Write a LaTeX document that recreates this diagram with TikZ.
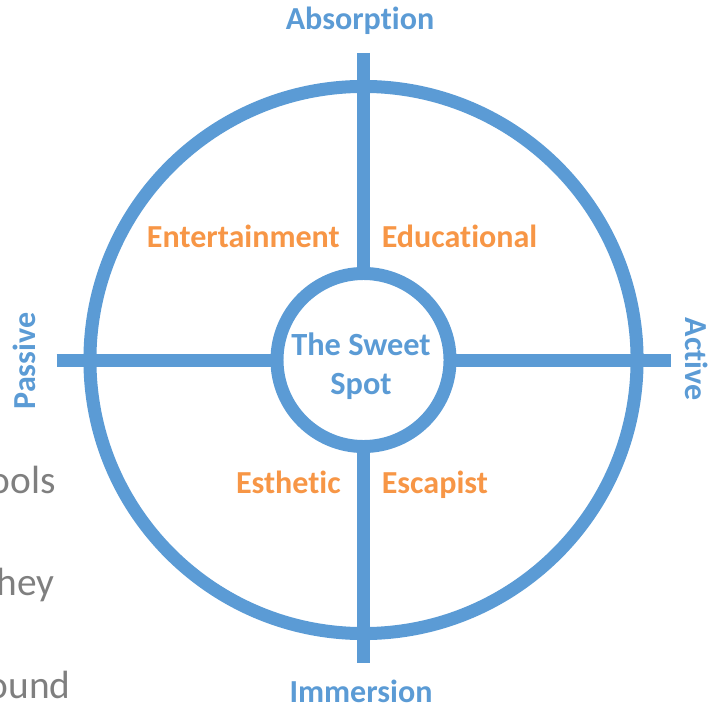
\documentclass[tikz,border=0pt]{standalone}
\usepackage{fontspec}
\setmainfont{Carlito}[Ligatures=NoCommon]
\usetikzlibrary{positioning}
\definecolor{ringblue}{HTML}{5B9BD5}
\definecolor{quadorange}{HTML}{F79646}
\definecolor{slidegray}{HTML}{7F7F7F}
\tikzset{
  ax/.style={font=\fontsize{22.8}{27}\selectfont\bfseries, text=ringblue, inner sep=0pt},
  qd/.style={font=\fontsize{22.8}{27}\selectfont\bfseries, text=quadorange, inner sep=0pt},
  gr/.style={font=\fontsize{28}{34}\selectfont, text=slidegray, inner sep=0pt, anchor=base east},
  rg/.style={circle, draw=ringblue, line width=0.325cm, inner sep=0pt, outer sep=0pt},
  bar/.style={draw=ringblue, line width=0.325cm}
}

\begin{document}
\begin{tikzpicture}[x=0.025cm, y=-0.025cm]
	\useasboundingbox (0,0) rectangle (720,708);
	\node[rg, minimum size=13.675cm] (ring) at (363.5,360) {};
	\node[rg, minimum size=4.325cm] (spot) at (363.5,360) {};
	\node[ax, align=center, font=\fontsize{23}{27.6}\selectfont\bfseries] (sweet) at (361,366) {The Sweet\\Spot};
	
	\coordinate (top) at (363.5,53);
	\coordinate (bot) at (363.5,663);
	\coordinate (lft) at (56.5,360);
	\coordinate (rgt) at (671,360);
	\draw[bar] (top) -- (spot.north);
	\draw[bar] (spot.south) -- (bot);
	\draw[bar] (lft) -- (spot.west);
	\draw[bar] (spot.east) -- (rgt);
	
	\node[ax, anchor=base] (absorption) at (360,29.5) {Absorption};
	\node[ax, anchor=base] (immersion) at (361,702) {Immersion};
	\node[ax, rotate=90] (passive) at (24.5,361) {Passive};
	\node[ax, rotate=-90] (active) at (696.5,359) {Active};
	
	\node[qd, anchor=base east] (entertain) at (340,247) {Entertainment};
	\node[qd, anchor=base west] (educate) at (381.5,247) {Educational};
	\node[qd, anchor=base east] (esthetic) at (341,493) {Esthetic};
	\node[qd, anchor=base west] (escapist) at (381.5,493) {Escapist};
	
	\node[gr] (tools) at (56,493) {ools};
	\node[gr] (they) at (55,595) {hey};
	\node[gr] (around) at (71,698) {ound};
\end{tikzpicture}
\end{document}
